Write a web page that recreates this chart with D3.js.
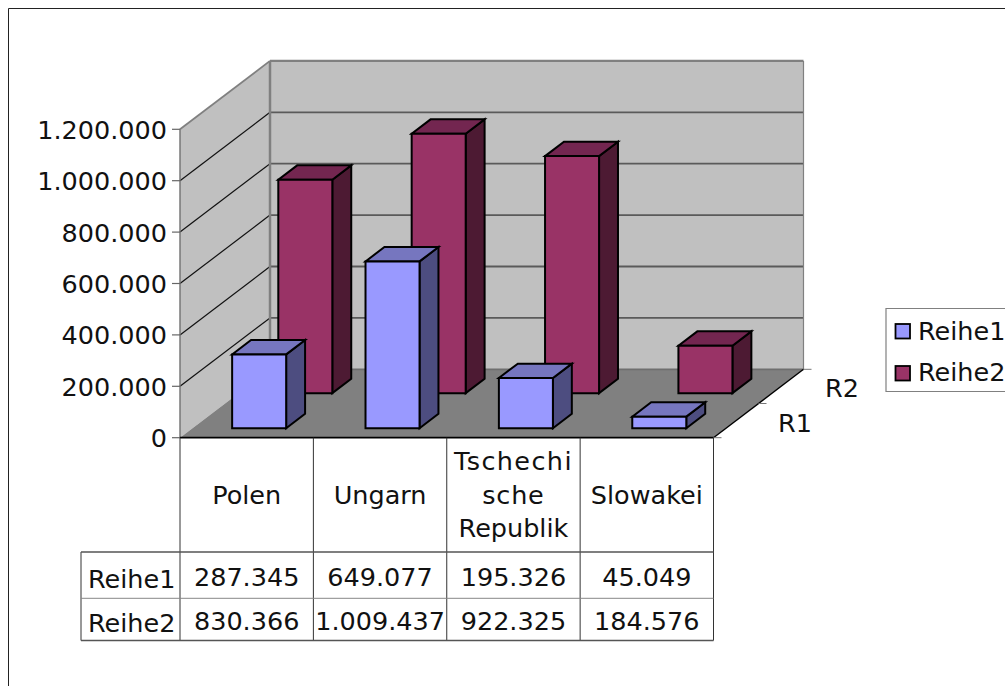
<!DOCTYPE html>
<html>
<head>
<meta charset="utf-8">
<script src="https://cdn.jsdelivr.net/npm/d3@7"></script>
<style>
  html, body { margin: 0; padding: 0; background: #fff; overflow: hidden; }
  text { font-family: "DejaVu Sans", sans-serif; font-size: 25.5px; fill: #111; }
</style>
</head>
<body>
<div id="chart"></div>
<script>
// Chart data
const categories = ["Polen", "Ungarn", "Tschechische Republik", "Slowakei"];
const categoryLines = [["Polen"], ["Ungarn"], ["Tschechi", "sche", "Republik"], ["Slowakei"]];
const seriesNames = ["Reihe1", "Reihe2"];
const depthNames = ["R1", "R2"];
const reihe1 = [287345, 649077, 195326, 45049];
const reihe2 = [830366, 1009437, 922325, 184576];
const yTicks = [0, 200000, 400000, 600000, 800000, 1000000, 1200000];
const seriesValues = [reihe1, reihe2];

const width = 1005;
const height = 686;

// front, side and top colours of the bars, per series
const barColors = [
    { front: "#9999ff", side: "#4d4d80", top: "#7676bf" },
    { front: "#993366", side: "#4d1a33", top: "#732650" }
];

const svg = d3.select("#chart")
    .append("svg")
    .attr("width", width)
    .attr("height", height)
    .style("display", "block");

const de = d3.formatLocale({ decimal: ",", thousands: ".", grouping: [3], currency: ["", ""] });
const fmt = de.format(",d");

// Scales: x along the front edge, y up the front edge, depth 0..1 into the picture
const x = d3.scaleBand().domain(categories).range([180, 713.5]).paddingInner(0.595).paddingOuter(0.2975);
const y = d3.scaleLinear().domain([0, 1200000]).range([437.7, 129.3]);
const depth = d3.scaleBand().domain(depthNames).range([0, 1]).paddingInner(0.59).paddingOuter(0.27);
const depthX = d3.scaleLinear().domain([0, 1]).range([0, 90]);
const depthY = d3.scaleLinear().domain([0, 1]).range([0, -68.4]);

// project a front position + value + depth to the screen
function pt(px, value, z) {
    return [px + depthX(z), y(value) + depthY(z)];
}
function poly(g, points, fill, stroke, sw) {
    return g.append("polygon")
        .attr("points", points.map(p => p.join(",")).join(" "))
        .attr("fill", fill)
        .attr("stroke", stroke || "none")
        .attr("stroke-width", sw || 0)
        .attr("stroke-linejoin", "miter");
}
function seg(g, a, b, stroke, sw) {
    return g.append("line")
        .attr("x1", a[0]).attr("y1", a[1])
        .attr("x2", b[0]).attr("y2", b[1])
        .attr("stroke", stroke)
        .attr("stroke-width", sw);
}

// Outer frame
svg.append("path")
    .attr("d", "M8.5,686V8.5H1005")
    .attr("fill", "none")
    .attr("stroke", "#222")
    .attr("stroke-width", 1);

const x0 = x.range()[0], x1 = x.range()[1], yMax = 1200000;
const walls = svg.append("g");

// Walls and floor
poly(walls, [pt(x0, 0, 1), pt(x1, 0, 1), pt(x1, yMax, 1), pt(x0, yMax, 1)], "#c0c0c0");
poly(walls, [pt(x0, 0, 0), pt(x0, 0, 1), pt(x0, yMax, 1), pt(x0, yMax, 0)], "#c0c0c0");
poly(walls, [pt(x0, 0, 0), pt(x1, 0, 0), pt(x1, 0, 1), pt(x0, 0, 1)], "#808080");

// Gridlines
yTicks.slice(1, -1).forEach(t => {
    seg(walls, pt(x0, t, 0), pt(x0, t, 1), "#111", 1.2);
    seg(walls, pt(x0, t, 1), pt(x1, t, 1), "#5a5a5a", 1.8);
});

// Wall outlines
seg(walls, pt(x0, 0, 1), pt(x0, yMax, 1), "#808080", 2.5);
seg(walls, pt(x0, yMax, 1), pt(x1, yMax, 1), "#808080", 2.2);
seg(walls, pt(x1, yMax, 1), pt(x1, 0, 1), "#808080", 1.2);
seg(walls, pt(x0, yMax, 0), pt(x0, yMax, 1), "#808080", 1.8);
seg(walls, pt(x0, 0, 0), pt(x0, yMax, 0), "#707070", 1.4);
seg(walls, pt(x0, 0, 1), pt(x1, 0, 1), "#6e6e6e", 1.8);

// Bars, back row first
const bars = svg.append("g");
[1, 0].forEach(s => {
    const z0 = depth(depthNames[s]);
    const z1 = z0 + depth.bandwidth();
    categories.forEach((c, i) => {
        const v = seriesValues[s][i];
        const a = x(c);
        const b = a + x.bandwidth();
        const col = barColors[s];
        poly(bars, [pt(b, 0, z0), pt(b, 0, z1), pt(b, v, z1), pt(b, v, z0)], col.side, "#000", 2);
        poly(bars, [pt(a, v, z0), pt(b, v, z0), pt(b, v, z1), pt(a, v, z1)], col.top, "#000", 2);
        poly(bars, [pt(a, 0, z0), pt(b, 0, z0), pt(b, v, z0), pt(a, v, z0)], col.front, "#000", 2);
    });
});

// Front edges of the floor
seg(svg, pt(x0, 0, 0), pt(x1, 0, 0), "#000", 1.8);
seg(svg, pt(x1, 0, 0), pt(x1, 0, 1), "#000", 1.4);

// Value axis
const axisG = svg.append("g");
yTicks.forEach(t => {
    seg(axisG, [x0 - 8, y(t)], [x0, y(t)], "#666", 1.2);
    axisG.append("text")
        .attr("x", 167)
        .attr("y", y(t) + 9.5)
        .attr("text-anchor", "end")
        .text(fmt(t));
});

// Depth axis
[0, 0.5, 1].forEach(z => {
    const p = pt(x1, 0, z);
    seg(axisG, p, [p[0] + 8, p[1]], "#777", 1);
});
depthNames.forEach((d, i) => {
    axisG.append("text")
        .attr("x", [778, 825][i])
        .attr("y", [432, 397][i])
        .text(d);
});

// Data table below the chart
const table = svg.append("g");
const rowY = [437.7, 552, 598.3, 640.5];
const colX = d3.range(5).map(i => x0 + i * x.step());
colX.forEach(cx => {
    seg(table, [cx, rowY[0]], [cx, rowY[3]], "#333", 1);
});
seg(table, [81, rowY[1]], [81, rowY[3]], "#333", 1);
seg(table, [81, rowY[1]], [x1, rowY[1]], "#555", 1.4);
seg(table, [81, rowY[2]], [x1, rowY[2]], "#888", 1);
seg(table, [81, rowY[3]], [x1, rowY[3]], "#555", 1.4);

// the source renderer spaces these two wrapped lines wider
const lineSpacing = { Tschechi: 1.4, sche: 0.8 };
categoryLines.forEach((lines, i) => {
    const cx = (colX[i] + colX[i + 1]) / 2;
    const top = 503.5 - (lines.length - 1) * 16.75;
    lines.forEach((l, j) => {
        table.append("text")
            .attr("x", cx)
            .attr("y", top + j * 33.5)
            .attr("text-anchor", "middle")
            .style("letter-spacing", (lineSpacing[l] || 0) + "px")
            .text(l);
    });
});
seriesNames.forEach((name, s) => {
    table.append("text")
        .attr("x", 88)
        .attr("y", [588, 632][s])
        .text(name);
    seriesValues[s].forEach((v, i) => {
        table.append("text")
            .attr("x", (colX[i] + colX[i + 1]) / 2)
            .attr("y", [586, 630][s])
            .attr("text-anchor", "middle")
            .text(fmt(v));
    });
});

// Legend
const legend = svg.append("g");
legend.append("path")
    .attr("d", "M1005,308.5H886V391.5H1005")
    .attr("fill", "#fff")
    .attr("stroke", "#808080")
    .attr("stroke-width", 1.2);
seriesNames.forEach((name, s) => {
    legend.append("rect")
        .attr("x", 895.5)
        .attr("y", [324, 366][s])
        .attr("width", 14.5)
        .attr("height", 14.5)
        .attr("fill", barColors[s].front)
        .attr("stroke", "#000")
        .attr("stroke-width", 1.8);
    legend.append("text")
        .attr("x", 918)
        .attr("y", [340, 381][s])
        .text(name);
});
</script>
</body>
</html>
